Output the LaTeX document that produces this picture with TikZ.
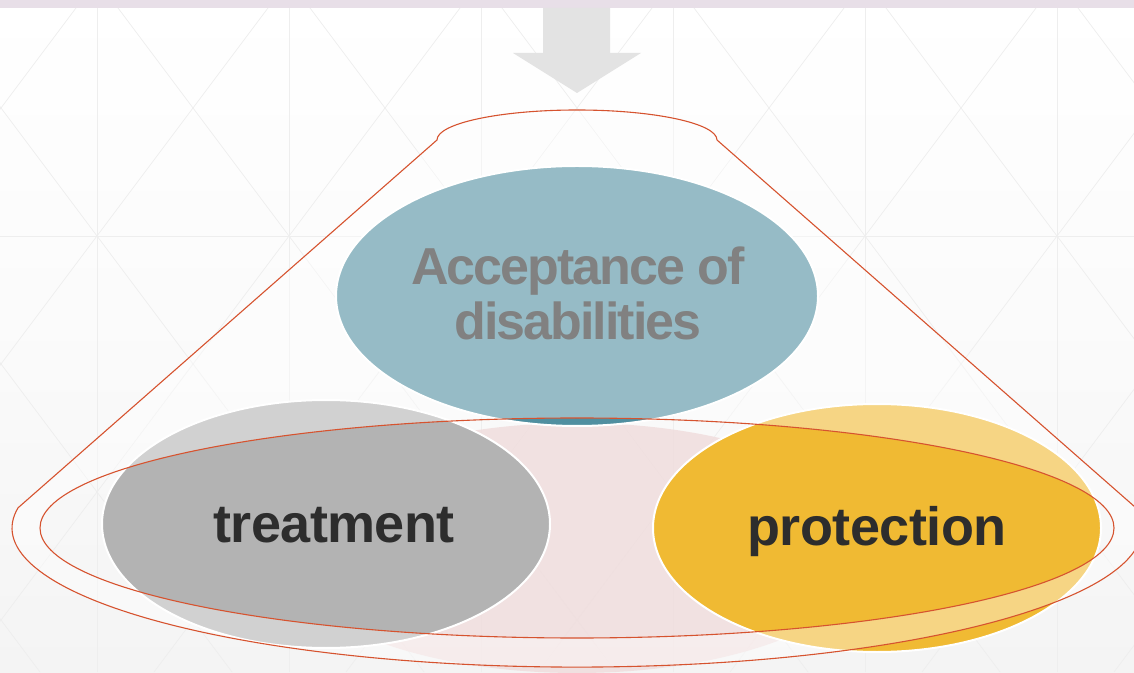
\documentclass[tikz,border=0pt]{standalone}
\usepackage{fontspec}
\setmainfont{Liberation Sans}
\usetikzlibrary{shapes.geometric}
\definecolor{bgbot}{HTML}{F4F4F4}
\definecolor{gridc}{HTML}{EEEEEE}
\definecolor{stripc}{HTML}{E8DFE8}
\definecolor{arrowc}{HTML}{E3E3E3}
\definecolor{pinkc}{HTML}{F0DCDC}
\definecolor{accc}{HTML}{508FA0}
\definecolor{trc}{HTML}{B3B3B3}
\definecolor{prc}{HTML}{F0BA33}
\definecolor{txtc}{HTML}{2D2D2D}
\definecolor{redc}{HTML}{D6532F}
\tikzset{
  bubble/.style={ellipse, draw=white, line width=2pt, inner sep=0pt},
  bigtext/.style={text=txtc, font=\fontsize{54}{56}\selectfont\bfseries\addfontfeature{LetterSpace=-1}, inner sep=0pt, anchor=base},
  acctext/.style={text=txtc, font=\fontsize{52}{55}\selectfont\bfseries\addfontfeature{LetterSpace=-3.8}, inner sep=0pt, anchor=base},
  outline/.style={draw=redc, line width=1.1pt},
  gridline/.style={gridc, line width=0.7pt}
}
\begin{document}
\begin{tikzpicture}[x=1pt,y=1pt]
\useasboundingbox (0,0) rectangle (1134,672);
% background
\shade[top color=white, bottom color=bgbot, middle color=white!60!bgbot] (0,0) rectangle (1134,672);
\begin{scope}
  \clip (0,0) rectangle (1134,672);
  \foreach \k in {0,...,5} {
    \draw[gridline] ({97+192*\k},0) -- ({97+192*\k},672);
  }
  \draw[gridline] (0,436) -- (1134,436);
  \foreach \k in {-4,...,9} {
    \draw[gridline] ({97+192*\k-327},0) -- ({97+192*\k+177},672);
    \draw[gridline] ({97+192*\k+327},0) -- ({97+192*\k-177},672);
  }
\end{scope}
% top strip
\fill[stripc] (0,664) rectangle (1134,672);
% arrow
\fill[arrowc] (543,664) -- (610,664) -- (610,619) -- (641,619) -- (577,579) -- (513,619) -- (543,619) -- cycle;
% pink centre
\fill[pinkc, fill opacity=0.8] (577,124) ellipse [x radius=300, y radius=125];
% bubbles
\node[bubble, fill=accc, minimum width=482pt, minimum height=260pt] (acc) at (577,376) {};
\node[bubble, fill=trc, minimum width=448pt, minimum height=248pt] (trt) at (326,148) {};
\node[bubble, fill=prc, minimum width=448pt, minimum height=248pt] (prt) at (877,144) {};
% texts
\node[acctext] (acct1) at (578,387) {Acceptance of};
\node[acctext] (acct2) at (578,332) {disabilities};
\node[bigtext] (trtt) at (334,130) {treatment};
\node[bigtext] (prtt) at (877,127) {protection};
% translucent cone band
\fill[white, fill opacity=0.4, even odd rule]
  (437,532) arc[start angle=180, end angle=0, x radius=140, y radius=30]
  -- (1135.9,164.2) arc[start angle=8.4, end angle=-188.4, x radius=565, y radius=139] -- cycle
  (577,144) ellipse [x radius=537, y radius=110];
% outlines
\draw[outline]
  (437,532) arc[start angle=180, end angle=0, x radius=140, y radius=30]
  -- (1135.9,164.2) arc[start angle=8.4, end angle=-188.4, x radius=565, y radius=139] -- cycle;
\draw[outline] (577,144) ellipse [x radius=537, y radius=110];
\end{tikzpicture}
\end{document}
